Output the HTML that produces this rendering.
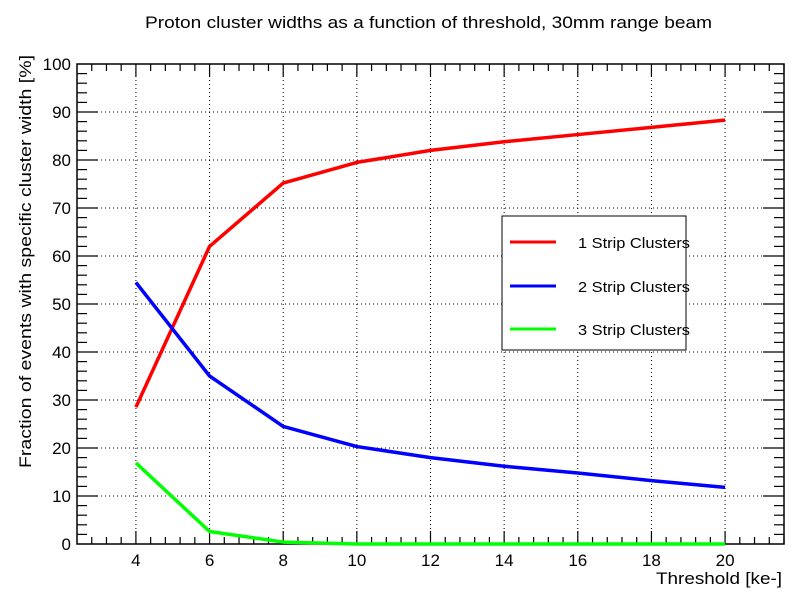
<!DOCTYPE html>
<html><head><meta charset="utf-8"><style>
body{margin:0;background:#fff;}
svg text{font-family:"Liberation Sans",sans-serif;}
</style></head><body>
<svg id="chart" width="800" height="604" xmlns="http://www.w3.org/2000/svg">
<rect width="800" height="604" fill="#fff"/>
<text x="145" y="28" font-size="17" textLength="567" lengthAdjust="spacingAndGlyphs">Proton cluster widths as a function of threshold, 30mm range beam</text>
<g id="grid"></g><g id="axes"></g><g id="series"></g>
<text x="656" y="584" font-size="17" textLength="126" lengthAdjust="spacingAndGlyphs">Threshold [ke-]</text>
<text transform="translate(31,468) rotate(-90)" font-size="17" textLength="413" lengthAdjust="spacingAndGlyphs">Fraction of events with specific cluster width [%]</text>
<g>
<rect x="502" y="216" width="184" height="134" fill="#fff" stroke="#000" stroke-width="1"/>
<line x1="510" y1="242" x2="556" y2="242" stroke="#ff0000" stroke-width="3"/>
<text x="578" y="248" font-size="15" textLength="112" lengthAdjust="spacingAndGlyphs">1 Strip Clusters</text>
<line x1="510" y1="286" x2="556" y2="286" stroke="#0000ff" stroke-width="3"/>
<text x="578" y="292" font-size="15" textLength="112" lengthAdjust="spacingAndGlyphs">2 Strip Clusters</text>
<line x1="510" y1="329" x2="556" y2="329" stroke="#00ff00" stroke-width="3"/>
<text x="578" y="335" font-size="15" textLength="112" lengthAdjust="spacingAndGlyphs">3 Strip Clusters</text>
</g>
</svg>
<script>
const thresholds=[4,6,8,10,12,14,16,18,20];
const oneStrip=[28.5,62,75.2,79.5,82,83.8,85.3,86.8,88.3];
const twoStrip=[54.5,35,24.5,20.3,18,16.2,14.8,13.2,11.8];
const threeStrip=[16.9,2.6,0.4,0,0,0,0,0,0];
const xTicks=[4,6,8,10,12,14,16,18,20];
const yTicks=[0,10,20,30,40,50,60,70,80,90,100];
const NS="http://www.w3.org/2000/svg";
const L=77,R=784,T=64,B=544,xmin=2.4,xmax=21.6;
const X=v=>L+(v-xmin)/(xmax-xmin)*(R-L);
const Y=v=>B-v/100*(B-T);
function mk(tag,at,parent){const e=document.createElementNS(NS,tag);for(const k in at)e.setAttribute(k,at[k]);document.getElementById(parent).appendChild(e);return e;}
xTicks.forEach(t=>{const e=mk('line',{x1:X(t),x2:X(t),y1:T,y2:B,stroke:'#000','stroke-width':1,'stroke-dasharray':'1,3'},'grid');

});
yTicks.forEach(t=>{if(t===0||t===100)return;const e=mk('line',{x1:L,x2:R,y1:Y(t),y2:Y(t),stroke:'#000','stroke-width':1,'stroke-dasharray':'1,3'},'grid');

});
const fr=mk('rect',{x:L,y:T,width:R-L,height:B-T,fill:'none',stroke:'#000','stroke-width':1.5},'axes');


for(let v=2.8;v<=21.6;v+=0.4){const major=Math.abs(v/2-Math.round(v/2))<0.01;const len=major?13:7;const x=X(v);
mk('line',{x1:x,x2:x,y1:B,y2:B-len,stroke:'#000','stroke-width':1.2},'axes');
mk('line',{x1:x,x2:x,y1:T,y2:T+len,stroke:'#000','stroke-width':1.2},'axes');}
for(let v=2;v<100;v+=2){const major=v%10===0;const len=major?21:10;const y=Y(v);
mk('line',{x1:L,x2:L+len,y1:y,y2:y,stroke:'#000','stroke-width':1.2},'axes');
mk('line',{x1:R,x2:R-len,y1:y,y2:y,stroke:'#000','stroke-width':1.2},'axes');}
xTicks.forEach(t=>{const e=mk('text',{x:X(t),y:B+22,'font-size':17,'text-anchor':'middle'},'axes');e.textContent=t;

});
yTicks.forEach(t=>{const e=mk('text',{x:L-6,y:Y(t)+6,'font-size':17,'text-anchor':'end'},'axes');e.textContent=t;

});
function line(vals,col,name){const p=vals.map((v,i)=>(i?'L':'M')+X(thresholds[i])+','+Y(v)).join('');
const e=mk('path',{d:p,fill:'none',stroke:col,'stroke-width':3.5,'stroke-linejoin':'round'},'series');

}
line(oneStrip,'#ff0000','series-1-strip');
line(twoStrip,'#0000ff','series-2-strip');
line(threeStrip,'#00ff00','series-3-strip');
</script>
</body></html>
